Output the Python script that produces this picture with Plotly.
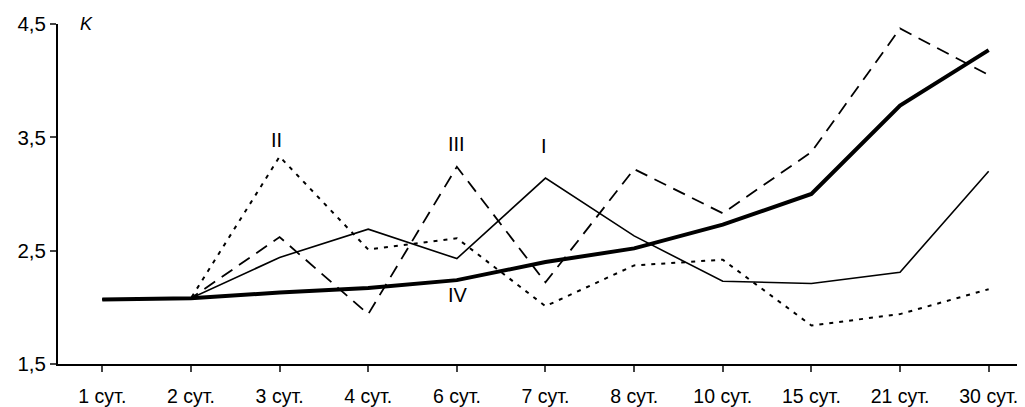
import plotly.graph_objects as go

categories = ["1 сут.", "2 сут.", "3 сут.", "4 сут.", "6 сут.", "7 сут.", "8 сут.",
              "10 сут.", "15 сут.", "21 сут.", "30 сут."]
series_I = [2.07, 2.08, 2.44, 2.69, 2.43, 3.14, 2.63, 2.23, 2.21, 2.31, 3.20]
series_II = [2.07, 2.08, 3.33, 2.51, 2.61, 2.01, 2.37, 2.42, 1.84, 1.94, 2.16]
series_III = [2.07, 2.08, 2.62, 1.94, 3.24, 2.22, 3.22, 2.83, 3.37, 4.46, 4.05]
series_IV = [2.07, 2.08, 2.13, 2.17, 2.24, 2.40, 2.52, 2.73, 3.00, 3.78, 4.27]
y_ticks = [1.5, 2.5, 3.5, 4.5]
y_tick_labels = ["1,5", "2,5", "3,5", "4,5"]

x = list(range(len(categories)))
fig = go.Figure()
fig.add_trace(go.Scatter(x=x, y=series_II, mode="lines",
                         line=dict(color="black", width=2, dash="4px,6px")))
fig.add_trace(go.Scatter(x=x, y=series_III, mode="lines",
                         line=dict(color="black", width=1.8, dash="13px,8px")))
fig.add_trace(go.Scatter(x=x, y=series_I, mode="lines",
                         line=dict(color="black", width=1.6)))
fig.add_trace(go.Scatter(x=x, y=series_IV, mode="lines",
                         line=dict(color="black", width=4)))

fam = "Liberation Sans, Arial, sans-serif"
lab_font = dict(family=fam, size=20, color="#000000")
labels = [("II", 1.97, 3.48), ("III", 4, 3.44), ("I", 4.98, 3.42), ("IV", 4.01, 2.11)]
for txt, xi, yi in labels:
    fig.add_annotation(x=xi, y=yi, text=txt, showarrow=False, font=lab_font)
fig.add_annotation(xref="paper", yref="paper", x=0.029, y=1.0, text="<i>K</i>",
                   showarrow=False, font=dict(family=fam, size=18, color="#000000"),
                   xanchor="center", yanchor="middle")

fig.update_layout(
    width=1017, height=399,
    margin=dict(l=50, r=0, t=16, b=40),
    paper_bgcolor="white", plot_bgcolor="white",
    showlegend=False, font=dict(family=fam, size=20, color="#000000"),
    xaxis=dict(range=[-0.5, 10.41], tickvals=x, ticktext=categories,
               tickson="boundaries", ticks="outside", ticklen=6, tickwidth=2,
               ticklabelstandoff=8,
               showline=True, linecolor="black", linewidth=2,
               showgrid=False, zeroline=False,
               tickfont=dict(family=fam, size=19.5, color="#000000")),
    yaxis=dict(range=[1.5, 4.5], tickvals=y_ticks, ticktext=y_tick_labels,
               ticks="outside", ticklen=6, tickwidth=2,
               showline=True, linecolor="black", linewidth=2,
               showgrid=False, zeroline=False,
               tickfont=dict(family=fam, size=20.5, color="#000000")),
)
fig.write_html("out.html")
